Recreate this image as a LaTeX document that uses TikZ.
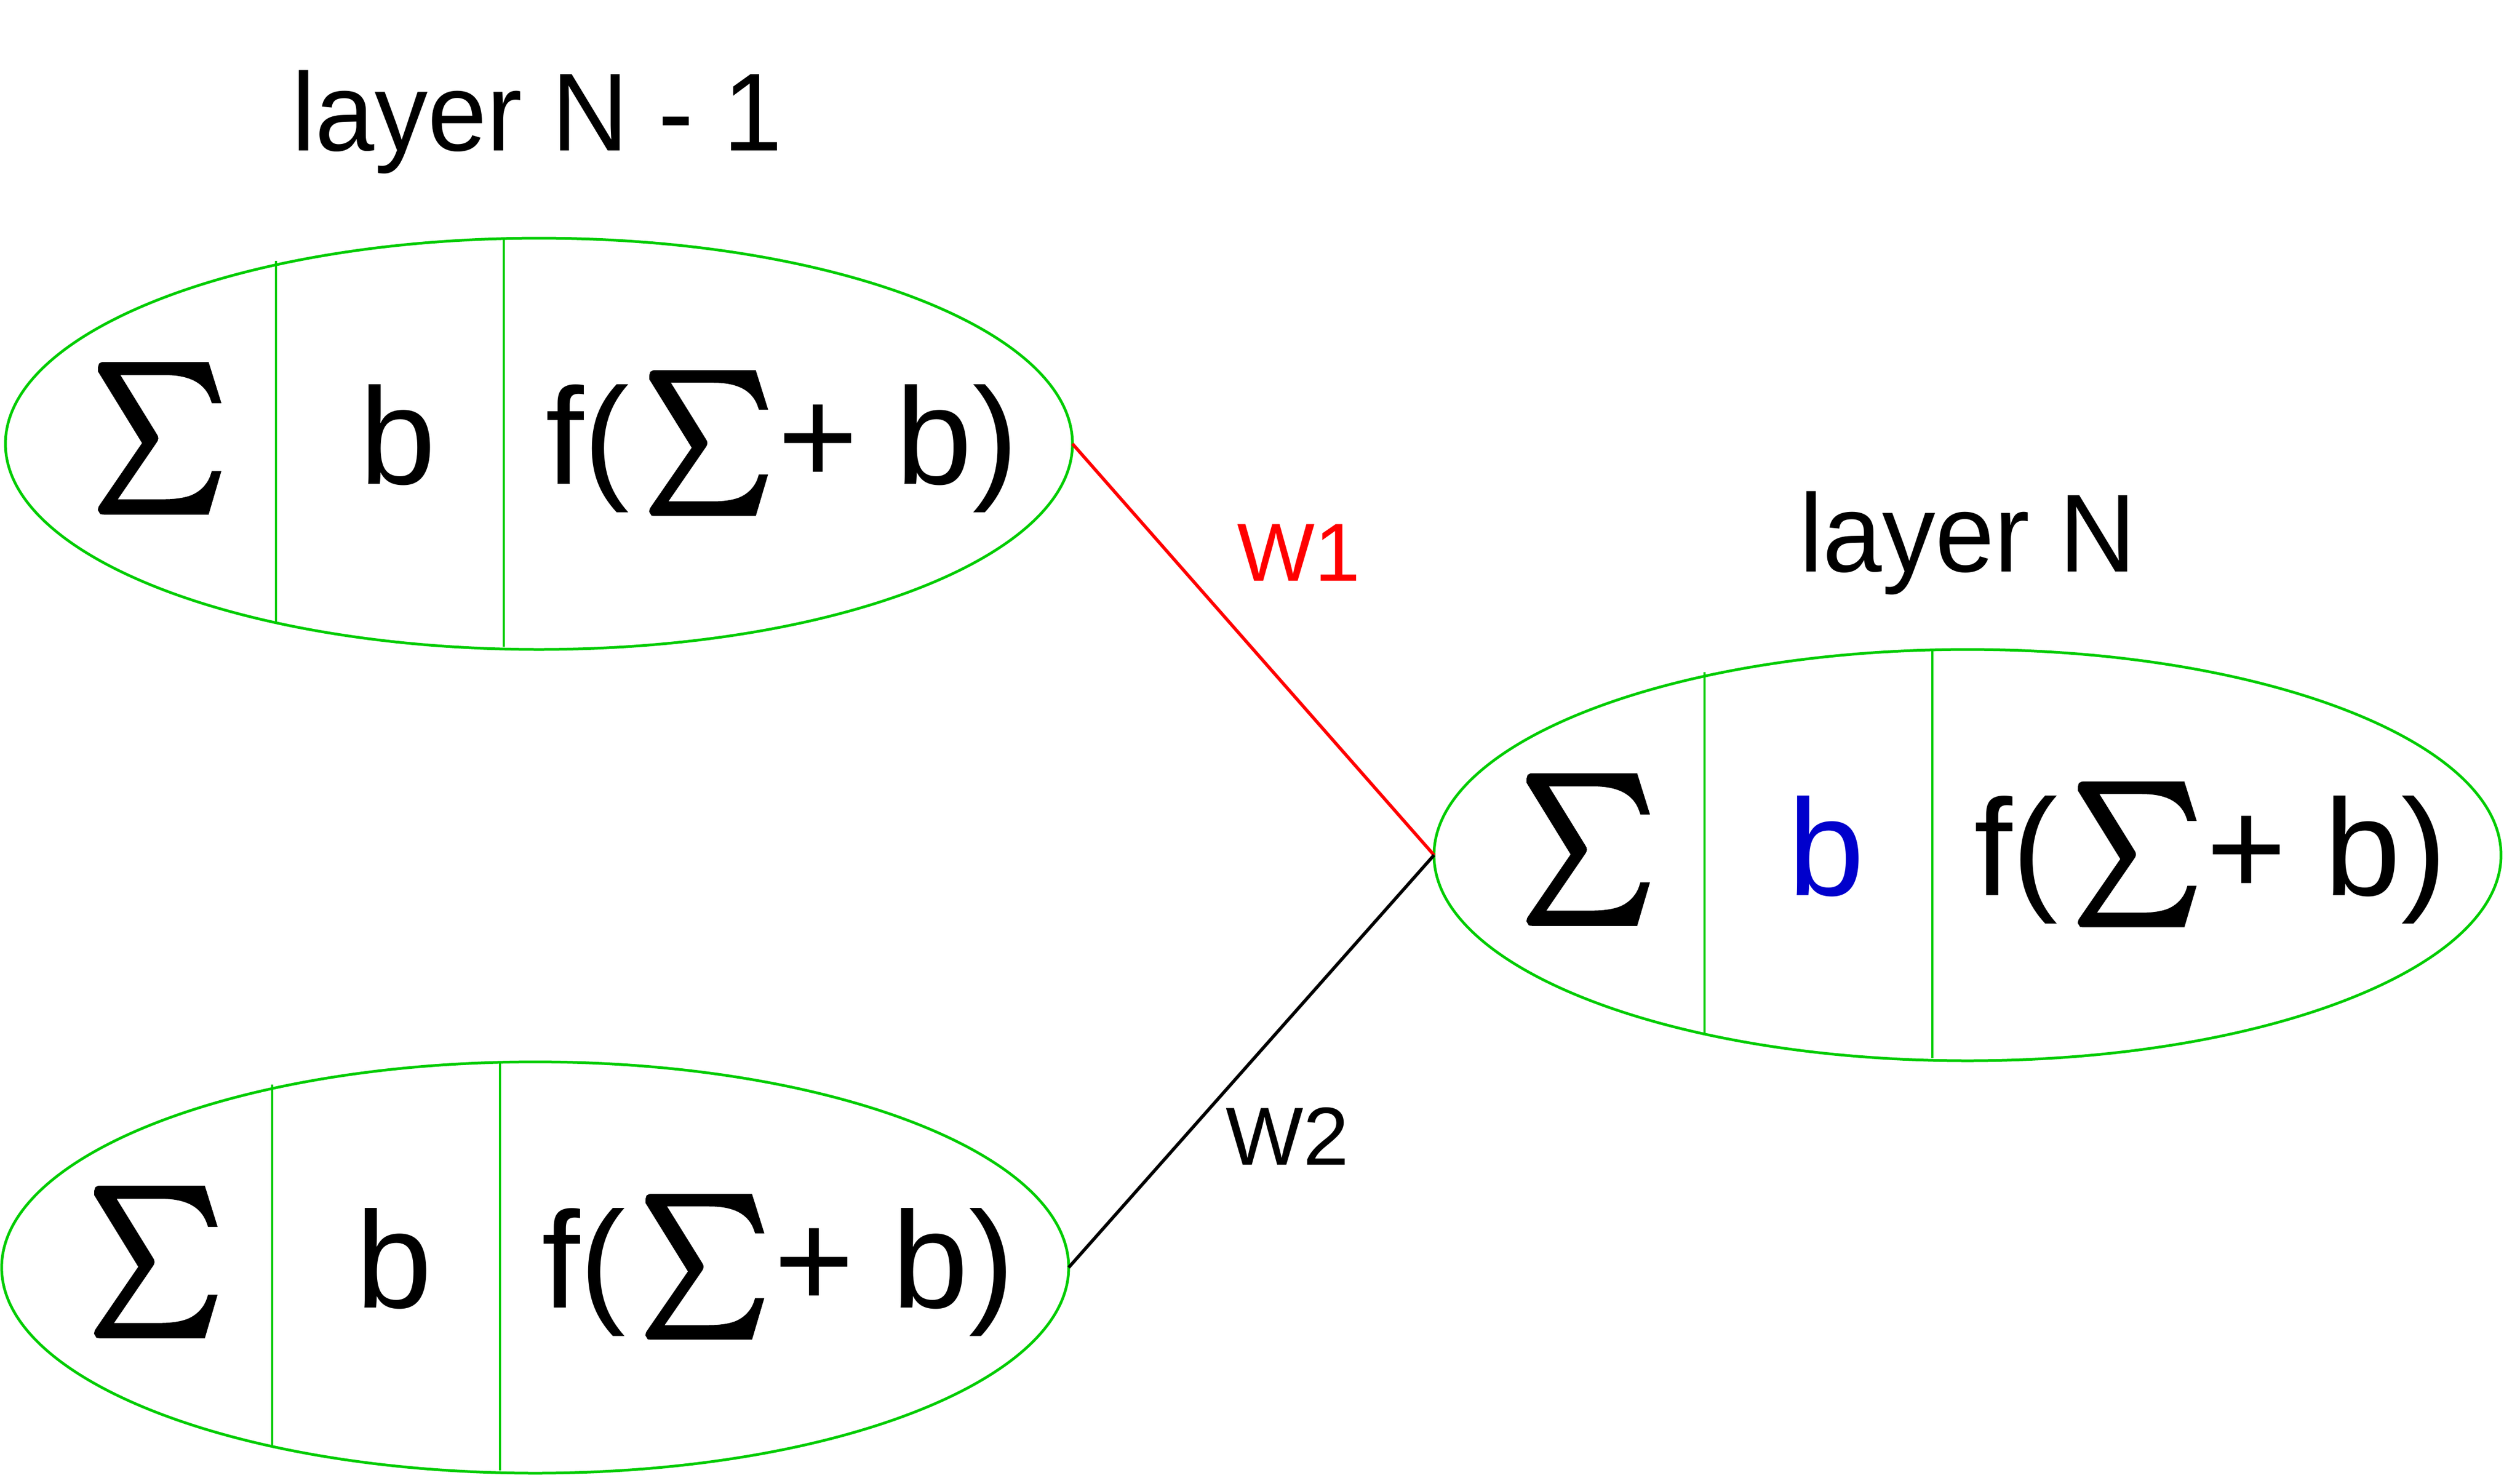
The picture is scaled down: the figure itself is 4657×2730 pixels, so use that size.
\documentclass[tikz,border=0pt]{standalone}
\usepackage{fontspec}
\setmainfont{Liberation Sans}
\newfontfamily\sigfont[FakeBold=5]{latinmodern-math.otf}
\usepackage{graphicx}
\usetikzlibrary{shapes.geometric}
\definecolor{eg}{RGB}{0,204,0}
\definecolor{bblue}{RGB}{0,0,204}
\definecolor{wred}{RGB}{255,0,0}
\newsavebox\sigbx
\newcommand\sigmark[2]{\resizebox*{#1}{#2}{\sbox\sigbx{\fontsize{27pt}{30pt}\sigfont ∑}\raisebox{\dp\sigbx}{\usebox\sigbx}}}
\tikzset{
  neuron/.style={ellipse, draw=eg, line width=0.5pt, minimum width=197.2pt, minimum height=76pt, inner sep=0pt, outer sep=0pt},
  divider/.style={draw=eg, line width=0.35pt},
  formula/.style={inner sep=0pt, outer sep=0pt, font=\fontsize{25.4pt}{30pt}\selectfont},
  lbl/.style={inner sep=0pt, outer sep=0pt, anchor=base west},
  wire/.style={line width=0.6pt},
}
\newcommand\neuron[4]{%
  \begin{scope}[shift={(#2,#3)}]
    \node[neuron] (#1) at (0,0) {};
    \draw[divider] (-486,-338) -- (-486,331);
    \draw[divider] (-65,-381) -- (-65,375);
    \node[formula, anchor=south] (#1-sig) at (-702,124) {\sigmark{24pt}{26.85pt}};
    \node[formula, anchor=base, text=#4] (#1-b) at (-261,74) {b};
    \node[formula, anchor=base west] (#1-f) at (12,74) {f(\hspace{3.0pt}\raisebox{-5.3pt}{\sigmark{23.1pt}{25.65pt}}\hspace{1.3pt}+ b)};
  \end{scope}}
\begin{document}
\begin{tikzpicture}[x=0.1pt, y=-0.1pt]
  \useasboundingbox (0,0) rectangle (4657,2730);
  \neuron{tl}{996}{820}{black}
  \neuron{bl}{989}{2342}{black}
  \neuron{r}{3636}{1580}{bblue}
  \draw[wire, wred] (tl.east) -- (r.west);
  \draw[wire, black] (bl.east) -- (r.west);
  \node[lbl, xscale=0.96, font=\fontsize{20.5pt}{24pt}\selectfont] (lay1) at (539,278) {layer N - 1};
  \node[lbl, xscale=0.96, font=\fontsize{20.5pt}{24pt}\selectfont] (lay2) at (3325,1056) {layer N};
  \node[lbl, text=wred, font=\fontsize{15.2pt}{18pt}\selectfont] (w1) at (2286,1073) {W1};
  \node[lbl, font=\fontsize{15.2pt}{18pt}\selectfont] (w2) at (2265,2152) {W2};
\end{tikzpicture}
\end{document}
